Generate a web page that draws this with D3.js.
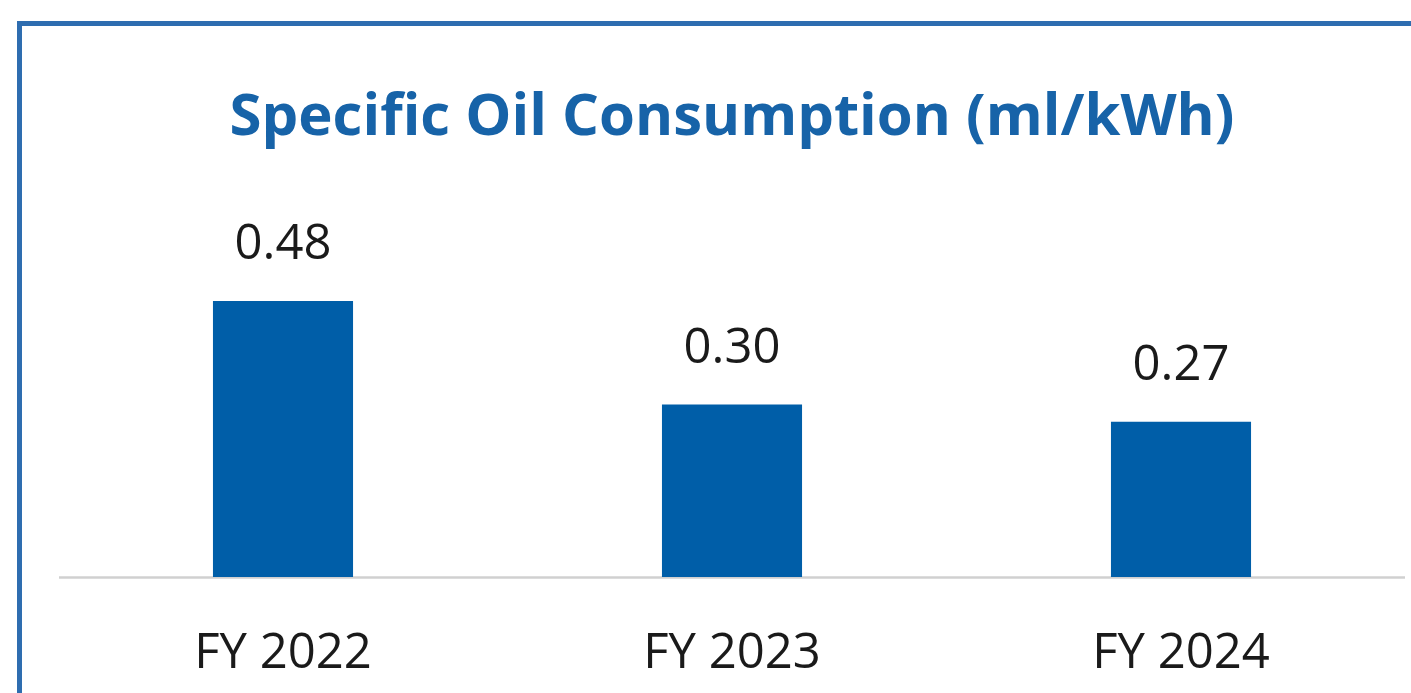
<!DOCTYPE html>
<html><head><meta charset="utf-8">
<script src="https://cdn.jsdelivr.net/npm/d3@7"></script>
<style>html,body{margin:0;padding:0;background:#fff;overflow:hidden}</style>
</head><body>
<svg id="c" width="1411" height="693"></svg>
<script>
const categories = ["FY 2022", "FY 2023", "FY 2024"];
const values = [0.48, 0.30, 0.27];
const valueLabels = ["0.48", "0.30", "0.27"];
const title = "Specific Oil Consumption (ml/kWh)";

const svg = d3.select("#c");
const font = "'Open Sans', sans-serif";

// frame
svg.append("rect").attr("x", 19.5).attr("y", 23.5).attr("width", 1500).attr("height", 1000)
  .attr("fill", "none").attr("stroke", "#2e6db0").attr("stroke-width", 5);

const x = d3.scaleBand().domain(categories).range([58.5, 1405.5]).paddingInner(0.688).paddingOuter(0.344);
const baseY = 577;
const y = d3.scaleLinear().domain([0, 0.48]).range([baseY, 301]);

// baseline
svg.append("line").attr("x1", 59).attr("x2", 1405).attr("y1", baseY + 0.5).attr("y2", baseY + 0.5)
  .attr("stroke", "#d0d0d0").attr("stroke-width", 2.5);

svg.selectAll("rect.bar").data(values).join("rect").attr("class", "bar")
  .attr("x", (d, i) => x(categories[i])).attr("width", x.bandwidth())
  .attr("y", d => y(d)).attr("height", d => baseY - y(d)).attr("fill", "#005ea8");

svg.selectAll("text.val").data(values).join("text").attr("class", "val")
  .attr("x", (d, i) => x(categories[i]) + x.bandwidth() / 2).attr("y", d => y(d) - 42)
  .attr("text-anchor", "middle").attr("font-family", font).attr("font-size", 49).attr("fill", "#1a1a1a")
  .text((d, i) => valueLabels[i]);

const xAxis = d3.axisBottom(x).tickSize(0).tickPadding(0);
const ax = svg.append("g").attr("transform", `translate(0,${baseY})`).call(xAxis);
ax.select(".domain").remove();
ax.selectAll("text").attr("font-family", font).attr("font-size", 49).attr("fill", "#1a1a1a")
  .attr("dy", null).attr("y", 91);

const t = svg.append("text").attr("x", 732).attr("y", 135).attr("text-anchor", "middle")
  .attr("font-family", font).attr("font-weight", 700).attr("font-size", 50).attr("fill", "#1763a8")
  .text(title);
const w = t.node().getComputedTextLength();
t.attr("font-size", 50 * 1005 / w);
</script>
</body></html>
